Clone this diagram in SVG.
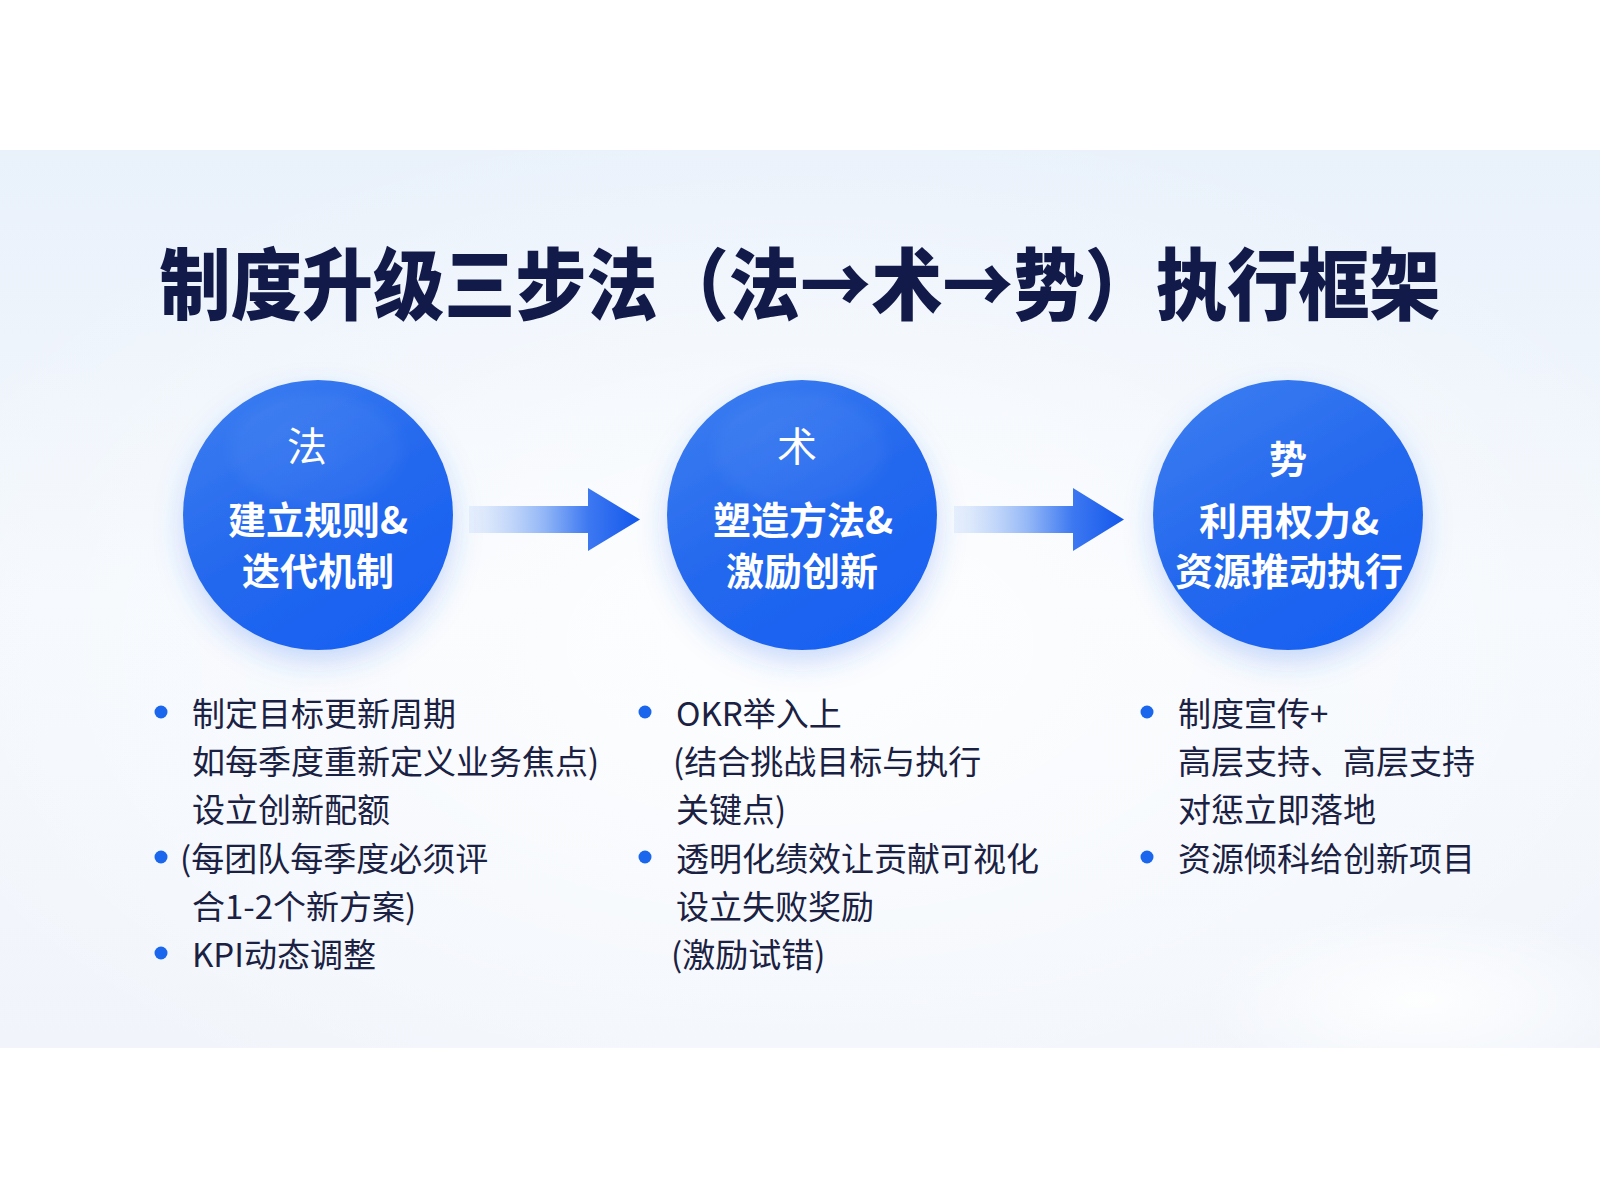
<svg xmlns="http://www.w3.org/2000/svg" width="1600" height="1200" viewBox="0 0 1600 1200">
  <defs>
    <linearGradient id="bg" x1="0" y1="0" x2="0" y2="1">
      <stop offset="0" stop-color="#e9f1fb"/>
      <stop offset="0.5" stop-color="#f4f8fd"/>
      <stop offset="1" stop-color="#f1f5fb"/>
    </linearGradient>
    <radialGradient id="bgGlow" cx="0.5" cy="0.55" r="0.6">
      <stop offset="0" stop-color="#ffffff" stop-opacity="0.85"/>
      <stop offset="1" stop-color="#ffffff" stop-opacity="0"/>
    </radialGradient>
    <radialGradient id="bgGlow2" cx="0.5" cy="0.5" r="0.5">
      <stop offset="0" stop-color="#ffffff" stop-opacity="0.9"/>
      <stop offset="1" stop-color="#ffffff" stop-opacity="0"/>
    </radialGradient>
    <linearGradient id="circ" x1="0.2" y1="0" x2="0.8" y2="1">
      <stop offset="0" stop-color="#3a7cf0"/>
      <stop offset="0.5" stop-color="#2468ee"/>
      <stop offset="1" stop-color="#1660f3"/>
    </linearGradient>
    <radialGradient id="hl" cx="0.5" cy="0.5" r="0.5">
      <stop offset="0" stop-color="#ffffff" stop-opacity="0.06"/>
      <stop offset="0.8" stop-color="#ffffff" stop-opacity="0.04"/>
      <stop offset="1" stop-color="#ffffff" stop-opacity="0"/>
    </radialGradient>
    <filter id="shadow" x="-30%" y="-30%" width="160%" height="170%">
      <feDropShadow dx="0" dy="12" stdDeviation="14" flood-color="#2a6cf0" flood-opacity="0.25"/>
    </filter>
    <linearGradient id="arr1" gradientUnits="userSpaceOnUse" x1="469" y1="0" x2="640" y2="0">
      <stop offset="0" stop-color="#c9dcfa" stop-opacity="0.35"/>
      <stop offset="0.45" stop-color="#8fb4f6"/>
      <stop offset="0.7" stop-color="#3d78f1"/>
      <stop offset="1" stop-color="#1358ec"/>
    </linearGradient>
    <linearGradient id="arr2" gradientUnits="userSpaceOnUse" x1="954" y1="0" x2="1124" y2="0">
      <stop offset="0" stop-color="#c9dcfa" stop-opacity="0.35"/>
      <stop offset="0.45" stop-color="#8fb4f6"/>
      <stop offset="0.7" stop-color="#3d78f1"/>
      <stop offset="1" stop-color="#1358ec"/>
    </linearGradient>
  </defs>
  <style>
    .title { font-family: "Noto Sans CJK SC", "Noto Sans", sans-serif; font-weight: 900; font-size: 78px; fill: #111a48; }
    .head { font-family: "Liberation Serif", "Noto Sans CJK SC", serif; font-size: 40px; fill: #ffffff; }
    .headb { font-family: "Noto Sans CJK SC", sans-serif; font-weight: 700; font-size: 38px; fill: #ffffff; }
    .lbl { font-family: "Noto Sans CJK SC", "Noto Sans", sans-serif; font-weight: 700; font-size: 38px; fill: #ffffff; }
    .item { font-family: "Noto Sans CJK SC", "Noto Sans", sans-serif; font-weight: 400; font-size: 33px; fill: #1a2142; }
    .dot { fill: #1a66ec; }
  </style>

  <rect x="0" y="0" width="1600" height="1200" fill="#ffffff"/>
  <rect x="0" y="150" width="1600" height="898" fill="url(#bg)"/>
  <rect x="0" y="150" width="1600" height="898" fill="url(#bgGlow)"/>
  <ellipse cx="1420" cy="1000" rx="220" ry="90" fill="url(#bgGlow2)"/>

  <text class="title" x="800" y="280" dominant-baseline="central" text-anchor="middle" textLength="1281" lengthAdjust="spacingAndGlyphs">制度升级三步法（法→术→势）执行框架</text>

  <g id="connectors">
    <path d="M469,506 H588 V488 L640,519.5 L588,551 V533 H469 Z" fill="url(#arr1)"/>
    <path d="M954,506 H1073 V488 L1124,519.5 L1073,551 V533 H954 Z" fill="url(#arr2)"/>
  </g>

  <g id="node-fa">
    <circle cx="318" cy="515" r="135" fill="url(#circ)" filter="url(#shadow)"/>
    <ellipse cx="316" cy="450" rx="95" ry="62" fill="url(#hl)"/>
    <text class="head" x="307" y="447" dominant-baseline="central" text-anchor="middle">法</text>
    <text class="lbl" x="318" y="517" dominant-baseline="central" text-anchor="middle">建立规则&amp;</text>
    <text class="lbl" x="318" y="568" dominant-baseline="central" text-anchor="middle">迭代机制</text>
  </g>

  <g id="node-shu">
    <circle cx="802" cy="515" r="135" fill="url(#circ)" filter="url(#shadow)"/>
    <ellipse cx="800" cy="450" rx="95" ry="62" fill="url(#hl)"/>
    <text class="head" x="797" y="447" dominant-baseline="central" text-anchor="middle">术</text>
    <text class="lbl" x="803" y="517" dominant-baseline="central" text-anchor="middle">塑造方法&amp;</text>
    <text class="lbl" x="802" y="568" dominant-baseline="central" text-anchor="middle">激励创新</text>
  </g>

  <g id="node-shi">
    <circle cx="1288" cy="515" r="135" fill="url(#circ)" filter="url(#shadow)"/>
    <text class="headb" x="1288" y="456" dominant-baseline="central" text-anchor="middle">势</text>
    <text class="lbl" x="1289" y="518" dominant-baseline="central" text-anchor="middle">利用权力&amp;</text>
    <text class="lbl" x="1289" y="568" dominant-baseline="central" text-anchor="middle">资源推动执行</text>
  </g>

  <g id="list-fa">
    <circle class="dot" cx="161" cy="712" r="6.5"/>
    <text class="item" x="192" y="712" dominant-baseline="central">制定目标更新周期</text>
    <text class="item" x="192" y="760" dominant-baseline="central">如每季度重新定义业务焦点)</text>
    <text class="item" x="192" y="808" dominant-baseline="central">设立创新配额</text>
    <circle class="dot" cx="161" cy="857" r="6.5"/>
    <text class="item" x="180" y="857" dominant-baseline="central">(每团队每季度必须评</text>
    <text class="item" x="192" y="905" dominant-baseline="central">合1-2个新方案)</text>
    <circle class="dot" cx="161" cy="953" r="6.5"/>
    <text class="item" x="192" y="953" dominant-baseline="central">KPI动态调整</text>
  </g>

  <g id="list-shu">
    <circle class="dot" cx="645" cy="712" r="6.5"/>
    <text class="item" x="676" y="712" dominant-baseline="central">OKR举入上</text>
    <text class="item" x="673" y="760" dominant-baseline="central">(结合挑战目标与执行</text>
    <text class="item" x="676" y="808" dominant-baseline="central">关键点)</text>
    <circle class="dot" cx="645" cy="857" r="6.5"/>
    <text class="item" x="676" y="857" dominant-baseline="central">透明化绩效让贡献可视化</text>
    <text class="item" x="676" y="905" dominant-baseline="central">设立失败奖励</text>
    <text class="item" x="671" y="953" dominant-baseline="central">(激励试错)</text>
  </g>

  <g id="list-shi">
    <circle class="dot" cx="1147" cy="712" r="6.5"/>
    <text class="item" x="1178" y="712" dominant-baseline="central">制度宣传+</text>
    <text class="item" x="1178" y="760" dominant-baseline="central">高层支持、高层支持</text>
    <text class="item" x="1178" y="808" dominant-baseline="central">对惩立即落地</text>
    <circle class="dot" cx="1147" cy="857" r="6.5"/>
    <text class="item" x="1178" y="857" dominant-baseline="central">资源倾科给创新项目</text>
  </g>
</svg>
